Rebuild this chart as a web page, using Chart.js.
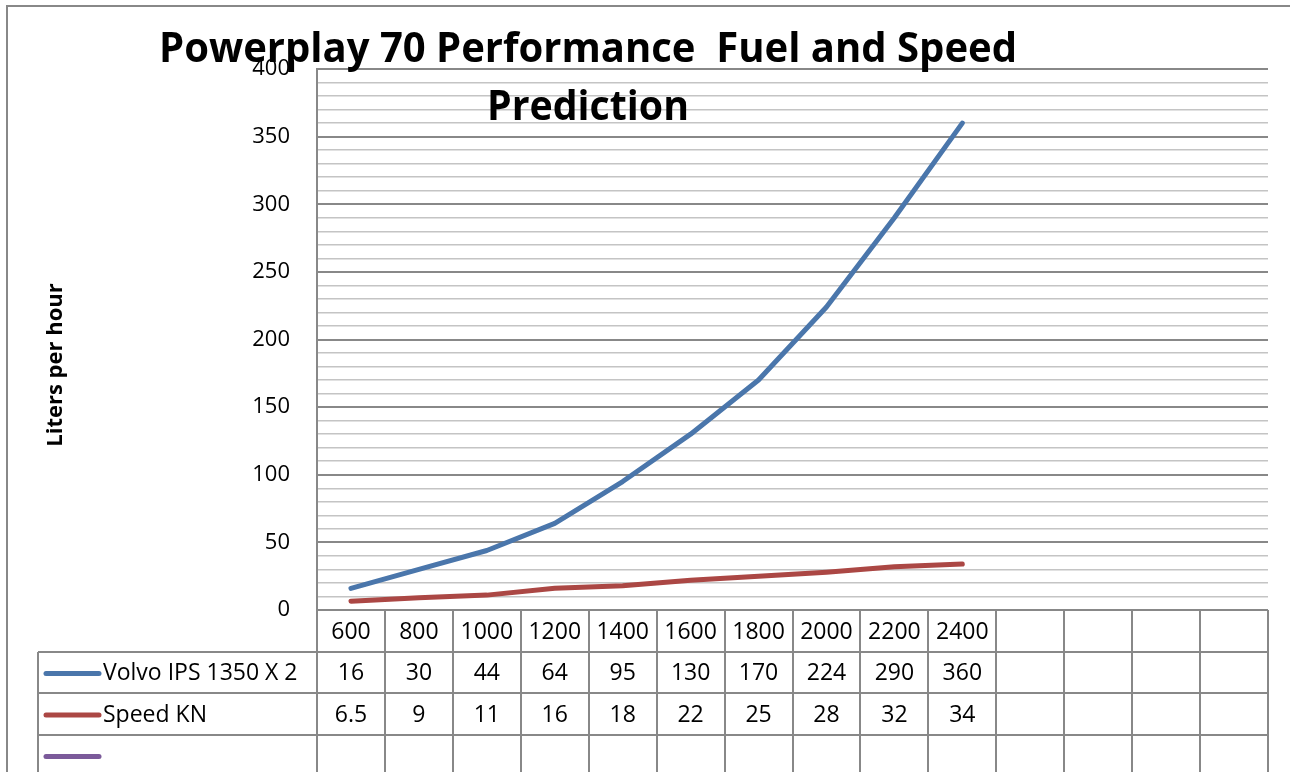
<!DOCTYPE html>
<html>
<head>
<meta charset="utf-8">
<script src="https://cdn.jsdelivr.net/npm/chart.js@4"></script>
<style>
  html, body { margin: 0; padding: 0; background: #fff; }
  #chart { display: block; }
</style>
</head>
<body>
<canvas id="chart" width="1290" height="772"></canvas>
<script>
// rpm categories (last 4 columns are empty in the original sheet)
const rpmLabels = ["600", "800", "1000", "1200", "1400", "1600", "1800", "2000", "2200", "2400", "", "", "", ""];
const volvoFuel = [16, 30, 44, 64, 95, 130, 170, 224, 290, 360];
const speedKn = [6.5, 9, 11, 16, 18, 22, 25, 28, 32, 34];
const emptySeries = [];
const seriesNames = ["Volvo IPS 1350 X 2", "Speed KN", ""];
const seriesColors = ["#4a76ab", "#ab4744", "#7b5a9a"];

const GRID_MAJOR = "#888888";
const GRID_MINOR = "#c4c4c4";
const FONT = "'Open Sans', 'DejaVu Sans', sans-serif";

// data table + titles drawn under the plot, Excel style
const excelExtras = {
  id: "excelExtras",
  afterDraw(chart) {
    const ctx = chart.ctx;
    const x = chart.scales.x;
    const area = chart.chartArea;
    const n = rpmLabels.length;
    const colW = (area.right - area.left) / n;
    const rowTops = [area.bottom, 652, 693, 735, 776];
    const tableLeft = 38;

    ctx.save();
    ctx.strokeStyle = GRID_MAJOR;
    ctx.lineWidth = 2;

    // outer chart frame
    ctx.beginPath();
    ctx.moveTo(7, 780);
    ctx.lineTo(7, 6);
    ctx.lineTo(1300, 6);
    ctx.stroke();

    // horizontal table lines
    ctx.beginPath();
    ctx.moveTo(area.left, rowTops[0]);
    ctx.lineTo(area.right, rowTops[0]);
    for (let r = 1; r < rowTops.length; r++) {
      ctx.moveTo(tableLeft, rowTops[r]);
      ctx.lineTo(area.right, rowTops[r]);
    }
    // vertical table lines
    for (let i = 0; i <= n; i++) {
      const xx = Math.round(area.left + i * colW);
      ctx.moveTo(xx, rowTops[0]);
      ctx.lineTo(xx, 780);
    }
    ctx.moveTo(tableLeft, rowTops[1]);
    ctx.lineTo(tableLeft, 780);
    ctx.stroke();

    // category row and value rows
    ctx.fillStyle = "#000";
    ctx.font = "23px " + FONT;
    ctx.textAlign = "center";
    ctx.textBaseline = "middle";
    const rows = [rpmLabels, volvoFuel, speedKn];
    rows.forEach((vals, r) => {
      const cy = (rowTops[r] + rowTops[r + 1]) / 2 + 1;
      for (let i = 0; i < n; i++) {
        const v = vals[i];
        if (v === undefined || v === "") continue;
        ctx.fillText(String(v), x.getPixelForValue(i), cy);
      }
    });

    // legend keys in the left column
    ctx.lineCap = "round";
    ctx.lineWidth = 5;
    seriesNames.forEach((name, s) => {
      const cy = (rowTops[s + 1] + rowTops[s + 2]) / 2 + 1;
      ctx.strokeStyle = seriesColors[s];
      ctx.beginPath();
      ctx.moveTo(46, cy);
      ctx.lineTo(99, cy);
      ctx.stroke();
      ctx.textAlign = "left";
      ctx.fillText(name, 103, cy);
    });

    // y axis title
    ctx.save();
    ctx.translate(56, 365);
    ctx.rotate(-Math.PI / 2);
    ctx.font = "bold 22px " + FONT;
    ctx.textAlign = "center";
    ctx.textBaseline = "middle";
    ctx.fillText("Liters per hour", 0, 0);
    ctx.restore();

    // chart title, squeezed to the width of the original
    const titleLines = [
      { text: "Powerplay 70 Performance  Fuel and Speed", y: 62, width: 858 },
      { text: "Prediction", y: 120, width: 202 },
    ];
    ctx.font = "bold 41px " + FONT;
    ctx.textAlign = "center";
    ctx.textBaseline = "alphabetic";
    titleLines.forEach((t) => {
      const w = ctx.measureText(t.text).width;
      ctx.save();
      ctx.translate(588, t.y);
      ctx.scale(t.width / w, 1);
      ctx.fillText(t.text, 0, 0);
      ctx.restore();
    });
    ctx.restore();
  },
};

new Chart(document.getElementById("chart"), {
  type: "line",
  data: {
    labels: rpmLabels,
    datasets: [
      {
        label: seriesNames[0],
        data: volvoFuel,
        borderColor: seriesColors[0],
        borderWidth: 5,
      },
      {
        label: seriesNames[1],
        data: speedKn,
        borderColor: seriesColors[1],
        borderWidth: 5,
      },
      {
        label: seriesNames[2],
        data: emptySeries,
        borderColor: seriesColors[2],
        borderWidth: 5,
      },
    ],
  },
  options: {
    responsive: false,
    animation: false,
    devicePixelRatio: 1,
    layout: { padding: { left: 0, top: 69, right: 22, bottom: 162 } },
    elements: {
      point: { radius: 0 },
      line: { tension: 0, borderCapStyle: "round", borderJoinStyle: "round" },
    },
    plugins: {
      legend: { display: false },
      tooltip: { enabled: false },
    },
    scales: {
      x: {
        display: false,
        offset: true,
      },
      y: {
        min: 0,
        max: 400,
        afterFit(scale) {
          scale.width = 317;
        },
        ticks: {
          stepSize: 10,
          autoSkip: false,
          maxTicksLimit: 100,
          padding: 27,
          color: "#000",
          font: { family: FONT, size: 22 },
          callback: (v) => (v % 50 === 0 ? v : ""),
        },
        grid: {
          drawTicks: false,
          color: (c) => (c.tick && c.tick.value % 50 === 0 ? GRID_MAJOR : GRID_MINOR),
          lineWidth: (c) => (c.tick && c.tick.value % 50 === 0 ? 2 : 1.5),
        },
        border: { color: GRID_MAJOR, width: 2 },
      },
    },
  },
  plugins: [excelExtras],
});
</script>
</body>
</html>
